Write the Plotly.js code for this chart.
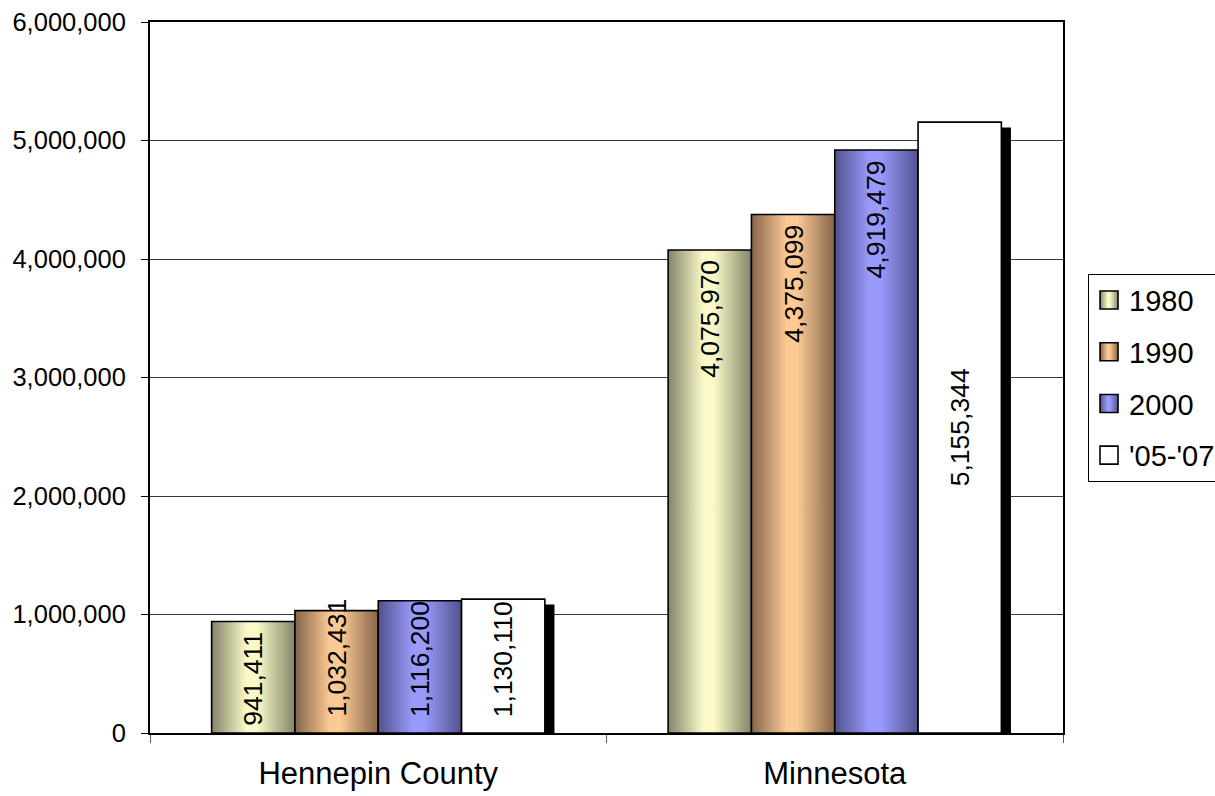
<!DOCTYPE html>
<html>
<head>
<meta charset="utf-8">
<script src="https://cdn.plot.ly/plotly-3.0.1.min.js"></script>
<style>
  html, body { margin: 0; padding: 0; background: #ffffff; }
  #chart { width: 1215px; height: 796px; }
</style>
</head>
<body>
<div id="chart"></div>
<script>
// ---- data ----
const categories = ["Hennepin County", "Minnesota"];
const seriesNames = ["1980", "1990", "2000", "'05-'07"];
const values1980 = [941411, 4075970];
const values1990 = [1032431, 4375099];
const values2000 = [1116200, 4919479];
const values0507 = [1130110, 5155344];
const yTickVals = [0, 1000000, 2000000, 3000000, 4000000, 5000000, 6000000];

// ---- styles ----
const allValues = [values1980, values1990, values2000, values0507];
const lightColors = ["#fafac8", "#fbc994", "#9a9afc", "#ffffff"];
const darkColors = ["#84846a", "#85654a", "#52528e", "#ffffff"];
// label placement per series / category: 'end' (inside top), 'base' (inside bottom), 'center'
const labelPlacement = [
  ["end", "end"],
  ["base", "end"],
  ["base", "end"],
  ["base", "center"]
];
const FONT = "Liberation Sans, Arial, Helvetica, sans-serif";
const barW = 0.1825;
const offsets = [-2 * barW, -1 * barW, 0, barW];
const shadowOffset = barW + 0.021;
const shadowDrop = 46000;

const fmt = v => v.toLocaleString("en-US");

const traces = [];
// drop shadow behind the last series
traces.push({
  type: "bar",
  x: categories,
  y: values0507,
  base: values0507.map(() => -shadowDrop),
  offset: shadowOffset,
  width: barW,
  marker: { color: "#000000", line: { width: 0 } },
  showlegend: false,
  hoverinfo: "skip"
});
allValues.forEach((vals, s) => {
  traces.push({
    type: "bar",
    name: seriesNames[s],
    legendgroup: "g" + s,
    x: categories,
    y: vals,
    offset: offsets[s],
    width: barW,
    marker: { color: lightColors[s], line: { color: "#000000", width: 1.6 } }
  });
});

const annotations = [];
allValues.forEach((vals, s) => {
  vals.forEach((v, c) => {
    const p = labelPlacement[s][c];
    const a = {
      xref: "x", yref: "y",
      x: c + offsets[s] + barW / 2,
      text: fmt(v),
      textangle: -90,
      showarrow: false,
      font: { family: FONT, size: 26.5, color: "#000000" },
      xanchor: "center"
    };
    if (p === "end") { a.y = v; a.yanchor = "top"; a.yshift = -8; }
    else if (p === "base") { a.y = 0; a.yanchor = "bottom"; a.yshift = 14; }
    else { a.y = v / 2; a.yanchor = "middle"; }
    annotations.push(a);
  });
});

const layout = {
  width: 1215,
  height: 796,
  paper_bgcolor: "#ffffff",
  plot_bgcolor: "#ffffff",
  font: { family: FONT, color: "#000000" },
  margin: { l: 150, r: 152, t: 22, b: 63, autoexpand: false },
  barmode: "overlay",
  showlegend: true,
  xaxis: {
    type: "category",
    range: [-0.5, 1.5],
    showline: true, linecolor: "#000000", linewidth: 2, mirror: true,
    ticks: "outside", tickson: "boundaries", ticklen: 8, tickcolor: "#555555", tickwidth: 1,
    showgrid: false,
    tickfont: { family: FONT, size: 31, color: "#000000" },
    ticklabelstandoff: 12
  },
  yaxis: {
    range: [0, 6000000],
    tickvals: yTickVals,
    tickformat: ",d",
    showline: true, linecolor: "#000000", linewidth: 2, mirror: true,
    ticks: "outside", ticklen: 7, tickcolor: "#000000", tickwidth: 1,
    showgrid: true, gridcolor: "#3a3a3a", gridwidth: 1,
    zeroline: false,
    tickfont: { family: FONT, size: 25.5, color: "#000000" },
    ticklabelstandoff: 10
  },
  legend: {
    x: 1.0274, xanchor: "left",
    y: 0.646, yanchor: "top",
    bgcolor: "#ffffff",
    bordercolor: "#000000", borderwidth: 1,
    font: { family: FONT, size: 29, color: "#000000" },
    traceorder: "grouped",
    tracegroupgap: 11
  },
  annotations: annotations
};

const gd = document.getElementById("chart");
Plotly.newPlot(gd, traces, layout, { staticPlot: true, displayModeBar: false }).then(() => {
  const NS = "http://www.w3.org/2000/svg";
  const svg = gd.querySelector(".main-svg");
  let defs = svg.querySelector("defs");
  if (!defs) { defs = document.createElementNS(NS, "defs"); svg.insertBefore(defs, svg.firstChild); }
  for (let s = 0; s < 3; s++) {
    const g = document.createElementNS(NS, "linearGradient");
    g.setAttribute("id", "barGrad" + s);
    g.setAttribute("x1", "0"); g.setAttribute("y1", "0");
    g.setAttribute("x2", "1"); g.setAttribute("y2", "0");
    [[0, darkColors[s]], [0.42, lightColors[s]], [0.55, lightColors[s]], [1, darkColors[s]]].forEach(([o, col]) => {
      const st = document.createElementNS(NS, "stop");
      st.setAttribute("offset", o);
      st.setAttribute("stop-color", col);
      g.appendChild(st);
    });
    defs.appendChild(g);
  }
  const barTraces = gd.querySelectorAll(".barlayer .trace");
  barTraces.forEach((tr, i) => {
    const s = i - 1;
    if (s >= 0 && s < 3) {
      tr.querySelectorAll("path").forEach(p => { p.style.fill = "url(#barGrad" + s + ")"; });
    }
  });
  const legItems = gd.querySelectorAll(".legend .traces");
  legItems.forEach((it, s) => {
    it.querySelectorAll(".legendpoints path").forEach(p => {
      p.setAttribute("d", "M9,9H-9V-9H9Z");
      if (s < 3) p.style.fill = "url(#barGrad" + s + ")";
      p.style.stroke = "#000000";
      p.style.strokeWidth = "1.6px";
    });
  });
});
</script>
</body>
</html>
